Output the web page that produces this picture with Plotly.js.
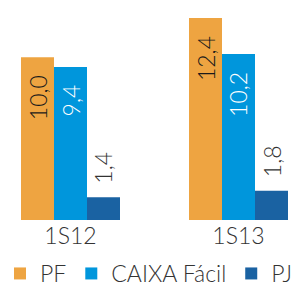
<!DOCTYPE html>
<html>
<head>
<meta charset="utf-8">
<script src="https://cdn.plot.ly/plotly-3.0.1.min.js"></script>
<style>html,body{margin:0;padding:0;background:#fff;}#chart{width:301px;height:282px;}</style>
</head>
<body>
<div id="chart"></div>
<script>
const categories = ['1S12', '1S13'];
const seriesNames = ['PF', 'CAIXA Fácil', 'PJ'];
const pfValues = [10.0, 12.4];
const caixaValues = [9.4, 10.2];
const pjValues = [1.4, 1.8];
const titleText = '(R$ bilhões)';

const colors = ['#EEA441', '#0096DC', '#1A62A2'];
const labelColors = ['#1a1a1a', '#ffffff', '#333333'];
const seriesValues = [pfValues, caixaValues, pjValues];
const FONT = 'Lato, "Open Sans", sans-serif';
const W = 300;

const fmt = v => v.toFixed(1).replace('.', ',');

const traces = seriesValues.map((vals, i) => ({
  type: 'bar',
  name: seriesNames[i],
  x: categories,
  y: vals,
  marker: {color: colors[i], line: {width: 0}},
  hoverinfo: 'skip'
}));

const barPx = 33;
const offsets = [-barPx, 0, barPx];
const annotations = [];
seriesValues.forEach((vals, i) => {
  vals.forEach((v, j) => {
    const inside = i < 2;
    annotations.push({
      x: categories[j], y: v, xref: 'x', yref: 'y',
      text: fmt(v), showarrow: false, textangle: -90,
      xshift: offsets[i], yshift: inside ? -16 : 11,
      xanchor: 'center', yanchor: inside ? 'top' : 'bottom',
      font: {family: FONT, size: 23, weight: W, color: labelColors[i]}
    });
  });
});
annotations.push({
  text: titleText, xref: 'paper', yref: 'paper', x: 0.515, y: 1,
  xanchor: 'center', yanchor: 'bottom', yshift: -3, showarrow: false,
  font: {family: FONT, size: 27, weight: W, color: '#1a1a1a'}
});

const layout = {
  width: 301, height: 282,
  margin: {l: 0, r: 0, t: 0, b: 62, pad: 0, autoexpand: false},
  paper_bgcolor: '#fff', plot_bgcolor: '#fff',
  barmode: 'group', bargap: 0.4107, bargroupgap: 0,
  xaxis: {
    type: 'category', range: [-0.4196, 1.372], automargin: false,
    showgrid: false, zeroline: false, showline: false, ticks: '',
    tickfont: {family: FONT, size: 23, weight: W, color: '#333'}, fixedrange: true
  },
  yaxis: {
    range: [0, 13.51], visible: false, showgrid: false, zeroline: false, fixedrange: true
  },
  showlegend: true,
  legend: {
    orientation: 'h', x: 0, xanchor: 'left', xref: 'container',
    y: 1 - 252 / 282, yanchor: 'top', yref: 'container',
    font: {family: FONT, size: 23, weight: W, color: '#333'}, bgcolor: 'rgba(0,0,0,0)',
    traceorder: 'normal'
  },
  annotations: annotations
};

Plotly.newPlot('chart', traces, layout, {staticPlot: true, displayModeBar: false});
</script>
</body>
</html>
